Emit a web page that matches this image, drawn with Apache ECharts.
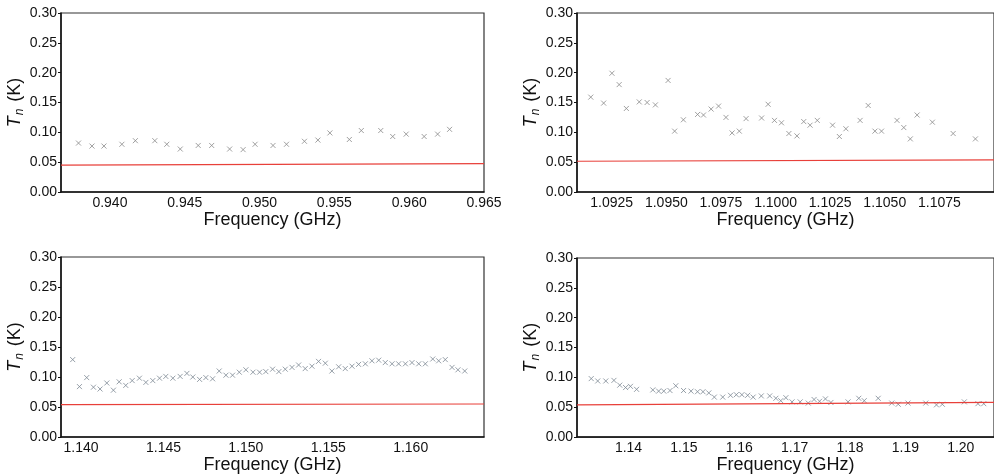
<!DOCTYPE html>
<html><head><meta charset="utf-8">
<script src="https://cdn.jsdelivr.net/npm/echarts@6/dist/echarts.min.js"></script>
<style>html,body{margin:0;padding:0;background:#fff}#c{width:994px;height:475px}</style>
</head><body><div id="c"></div>
<script>
// ---- data ----
const yTicks = [0, 0.05, 0.10, 0.15, 0.20, 0.25, 0.30];

const p1Ticks = [0.940, 0.945, 0.950, 0.955, 0.960, 0.965];
const p1Range = [0.93673, 0.965];
const p1x = [0.9379,0.9388,0.9396,0.9408,0.9417,0.9430,0.9438,0.9447,0.9459,0.9468,0.9480,0.9489,0.9497,0.9509,0.9518,0.9530,0.9539,0.9547,0.9560,0.9568,0.9581,0.9589,0.9598,0.9610,0.9619,0.9627];
const p1y = [0.082,0.077,0.077,0.080,0.086,0.086,0.080,0.072,0.078,0.078,0.072,0.071,0.080,0.078,0.080,0.085,0.087,0.099,0.088,0.103,0.103,0.093,0.097,0.093,0.097,0.105];
const p1Red = [0.045, 0.0475];

const p2Ticks = [1.0925, 1.0950, 1.0975, 1.1000, 1.1025, 1.1050, 1.1075];
const p2Range = [1.09091, 1.110];
const p2x = [1.09154,1.09213,1.09251,1.09284,1.09317,1.09376,1.09412,1.09450,1.09508,1.09538,1.09578,1.09643,1.09670,1.09705,1.09739,1.09773,1.09801,1.09834,1.09865,1.09936,1.09966,1.09995,1.10027,1.10061,1.10098,1.10129,1.10158,1.10191,1.10261,1.10292,1.10322,1.10387,1.10424,1.10455,1.10485,1.10556,1.10587,1.10617,1.10648,1.10718,1.10813,1.10915];
const p2y = [0.159,0.149,0.199,0.180,0.140,0.151,0.150,0.146,0.187,0.102,0.121,0.130,0.129,0.139,0.144,0.125,0.099,0.102,0.123,0.124,0.147,0.120,0.116,0.098,0.094,0.118,0.112,0.120,0.112,0.093,0.106,0.120,0.145,0.102,0.102,0.120,0.108,0.089,0.129,0.117,0.098,0.089];
const p2Red = [0.0515, 0.0537];

const p3Ticks = [1.140, 1.145, 1.150, 1.155, 1.160];
const p3Range = [1.13878, 1.16445];
const p3x = [1.13949,1.1399,1.14034,1.14075,1.14115,1.14156,1.14196,1.14231,1.14271,1.1431,1.14354,1.14393,1.14435,1.14476,1.14514,1.14557,1.14601,1.14642,1.14678,1.14719,1.14757,1.14798,1.14838,1.14879,1.14919,1.1496,1.15,1.15043,1.15083,1.15121,1.15162,1.152,1.15239,1.1528,1.1532,1.1536,1.15401,1.15441,1.15482,1.15522,1.15563,1.15603,1.15644,1.15684,1.15725,1.15765,1.15806,1.15846,1.15887,1.15927,1.15968,1.16008,1.16049,1.16089,1.16134,1.1617,1.1621,1.16251,1.16287,1.16328];
const p3y = [0.129,0.084,0.099,0.083,0.080,0.090,0.078,0.092,0.086,0.094,0.098,0.091,0.094,0.098,0.101,0.098,0.101,0.106,0.100,0.096,0.099,0.097,0.110,0.103,0.103,0.108,0.112,0.108,0.108,0.109,0.113,0.109,0.113,0.116,0.120,0.114,0.118,0.126,0.123,0.110,0.117,0.114,0.118,0.121,0.122,0.127,0.128,0.124,0.122,0.122,0.122,0.124,0.122,0.122,0.130,0.127,0.129,0.116,0.112,0.110];
const p3Red = [0.054, 0.055];

const p4Ticks = [1.14, 1.15, 1.16, 1.17, 1.18, 1.19, 1.20];
const p4Range = [1.1307, 1.206];
const p4x = [1.13327,1.13444,1.1359,1.13737,1.13842,1.13947,1.14035,1.14146,1.14439,1.14544,1.14637,1.14749,1.14854,1.14994,1.15129,1.15246,1.15345,1.1545,1.1555,1.15702,1.15842,1.15947,1.16047,1.16152,1.16251,1.16398,1.1655,1.16661,1.16749,1.16842,1.16953,1.171,1.17246,1.17351,1.1745,1.17556,1.17655,1.17965,1.18158,1.18257,1.18509,1.18754,1.18871,1.19047,1.19368,1.19561,1.19667,1.20064,1.2031,1.20415];
const p4y = [0.098,0.094,0.094,0.095,0.087,0.083,0.085,0.080,0.079,0.077,0.077,0.078,0.086,0.078,0.077,0.076,0.076,0.074,0.067,0.067,0.070,0.071,0.071,0.070,0.067,0.069,0.069,0.065,0.061,0.066,0.059,0.059,0.057,0.063,0.060,0.064,0.058,0.059,0.065,0.061,0.065,0.057,0.055,0.057,0.057,0.054,0.055,0.059,0.056,0.056];
const p4Red = [0.054, 0.058];

const xName = 'Frequency (GHz)';

// ---- chart ----
const panels = [
  {ticks:p1Ticks, range:p1Range, x:p1x, y:p1y, red:p1Red, dec:3, grid:{left:61, top:13, width:423, height:179}, col:'#8a8a8a'},
  {ticks:p2Ticks, range:p2Range, x:p2x, y:p2y, red:p2Red, dec:4, grid:{left:577, top:13, width:429, height:179}, col:'#8a8a8a'},
  {ticks:p3Ticks, range:p3Range, x:p3x, y:p3y, red:p3Red, dec:3, grid:{left:61, top:257, width:423, height:180}, col:'#7d8894'},
  {ticks:p4Ticks, range:p4Range, x:p4x, y:p4y, red:p4Red, dec:2, grid:{left:577, top:258, width:429, height:180}, col:'#7d8894'}
];
const FONT = 'Liberation Sans, Arial, sans-serif';
const grids = [], xAxes = [], yAxes = [], series = [];
panels.forEach((p, i) => {
  grids.push(Object.assign({show:true, borderColor:'#333', borderWidth:1.2, backgroundColor:'transparent', containLabel:false}, p.grid));
  xAxes.push({
    type:'value', gridIndex:i, min:p.range[0], max:p.range[1],
    name:xName, nameLocation:'middle', nameGap:10,
    nameTextStyle:{fontFamily:FONT, fontSize:18, color:'#111', verticalAlign:'top'},
    axisLine:{show:true, onZero:false, lineStyle:{color:'#111', width:1.5}},
    axisTick:{show:false},
    axisLabel:{fontFamily:FONT, fontSize:14, color:'#111', margin:4, showMinLabel:true, showMaxLabel:true,
      customValues:p.ticks, formatter:v => v.toFixed(p.dec)},
    splitLine:{show:false}
  });
  yAxes.push({
    type:'value', gridIndex:i, min:0, max:0.30, interval:0.05,
    name:'{t|T}{s|n} (K)', nameLocation:'middle', nameGap:29,
    nameTextStyle:{fontFamily:FONT, fontSize:18, color:'#111',
      rich:{t:{fontFamily:FONT, fontSize:18, fontStyle:'italic', color:'#111'},
            s:{fontFamily:FONT, fontSize:12, fontStyle:'italic', color:'#111', padding:[9,2,0,1]}}},
    axisLine:{show:true, onZero:false, lineStyle:{color:'#111', width:1.5}},
    axisTick:{show:true, length:3, lineStyle:{color:'#111'}},
    axisLabel:{fontFamily:FONT, fontSize:14, color:'#111', margin:4, formatter:v => v.toFixed(2)},
    splitLine:{show:false}
  });
  series.push({
    type:'scatter', xAxisIndex:i, yAxisIndex:i,
    data:p.x.map((xv, k) => [xv, p.y[k]]),
    symbol:'path://M0,0L10,10M10,0L0,10', symbolSize:5,
    itemStyle:{color:'none', borderColor:p.col, borderWidth:1},
    silent:true
  });
  series.push({
    type:'line', xAxisIndex:i, yAxisIndex:i, symbol:'none',
    data:[[p.range[0], p.red[0]], [p.range[1], p.red[1]]],
    lineStyle:{color:'#e8403a', width:1.2}, silent:true
  });
});
const chart = echarts.init(document.getElementById('c'), null, {renderer:'canvas'});
chart.setOption({animation:false, backgroundColor:'#fff', grid:grids, xAxis:xAxes, yAxis:yAxes, series:series});
</script></body></html>
